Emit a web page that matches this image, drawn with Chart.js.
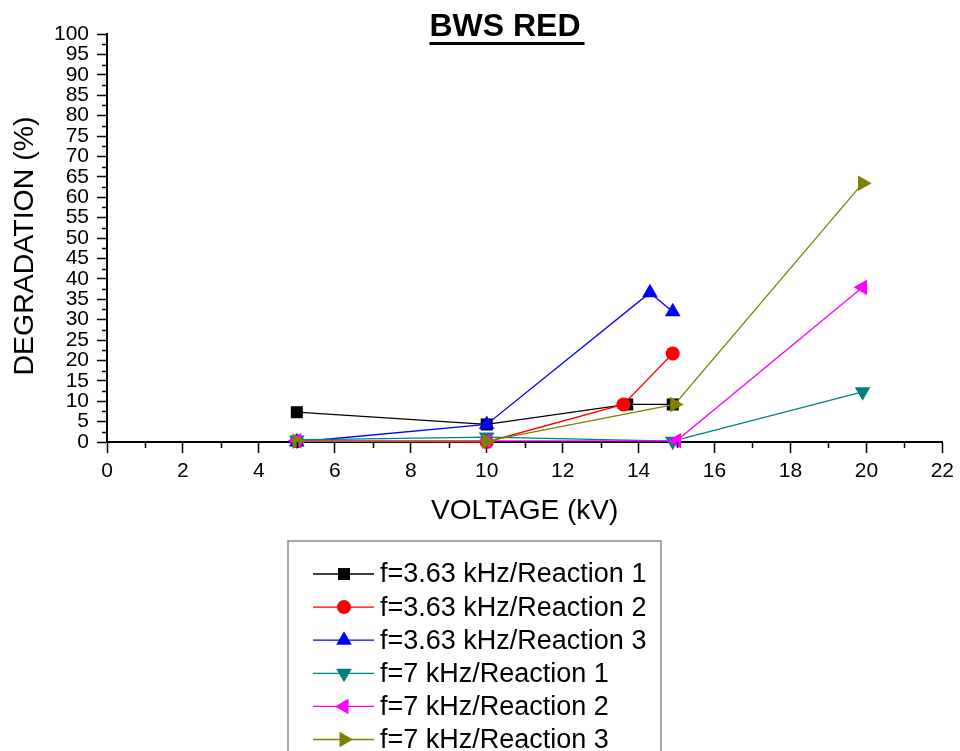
<!DOCTYPE html>
<html>
<head>
<meta charset="utf-8">
<title>BWS RED</title>
<script src="https://cdn.jsdelivr.net/npm/chart.js@4/dist/chart.umd.min.js"></script>
<style>
    body { margin: 0; background: #fff; }
    #wrap { width: 960px; height: 751px; }
</style>
</head>
<body>
<div id="wrap"><canvas id="degradationChart" width="960" height="751"></canvas></div>
<script>
// Series data (x = voltage kV, y = degradation %)
const seriesLabels = [
    'f=3.63 kHz/Reaction 1',
    'f=3.63 kHz/Reaction 2',
    'f=3.63 kHz/Reaction 3',
    'f=7 kHz/Reaction 1',
    'f=7 kHz/Reaction 2',
    'f=7 kHz/Reaction 3'
];
const voltage363r1 = [5, 10, 13.7, 14.9];
const degr363r1 = [7.3, 4.3, 9.2, 9.2];
const voltage363r2 = [5, 10, 13.6, 14.9];
const degr363r2 = [0.2, 0, 9.2, 21.7];
const voltage363r3 = [5, 10, 14.3, 14.9];
const degr363r3 = [0, 4.3, 36.6, 31.9];
const voltage7r1 = [5, 10, 14.9, 19.9];
const degr7r1 = [0.5, 1.2, 0.2, 12.3];
const voltage7r2 = [5, 10, 15, 19.9];
const degr7r2 = [0.3, 0.3, 0.3, 37.9];
const voltage7r3 = [5, 10, 14.95, 19.9];
const degr7r3 = [0.2, 0.2, 9.2, 63.4];

// Axis tick settings
const xTicks = [0, 2, 4, 6, 8, 10, 12, 14, 16, 18, 20, 22];
const yTickStep = 5;

// Marker styles for each series
const seriesStyles = [
    { color: '#000000', pointStyle: 'rect', radius: 8.5, rotation: 0 },
    { color: '#ff0000', pointStyle: 'circle', radius: 7, rotation: 0 },
    { color: '#0000ff', pointStyle: 'triangle', radius: 9, rotation: 0 },
    { color: '#008080', pointStyle: 'triangle', radius: 9, rotation: 180 },
    { color: '#ff00ff', pointStyle: 'triangle', radius: 9, rotation: 270 },
    { color: '#808000', pointStyle: 'triangle', radius: 9, rotation: 90 }
];

const xs = [voltage363r1, voltage363r2, voltage363r3, voltage7r1, voltage7r2, voltage7r3];
const ys = [degr363r1, degr363r2, degr363r3, degr7r1, degr7r2, degr7r3];

const fontFamily = '"Liberation Sans", Arial, sans-serif';

// Build the datasets from the arrays above
const datasets = seriesLabels.map(function(label, i) {
    const st = seriesStyles[i];
    return {
        label: label,
        data: xs[i].map((x, j) => ({ x: x, y: ys[i][j] })),
        borderColor: st.color,
        backgroundColor: st.color,
        borderWidth: 1.3,
        pointStyle: st.pointStyle,
        pointRadius: st.radius,
        pointRotation: st.rotation,
        pointBorderWidth: 0,
        pointBackgroundColor: st.color,
        tension: 0,
        clip: false,
        // later series drawn on top
        order: seriesLabels.length - i
    };
});

// Draw a marker for the legend
function drawMarker(ctx, st, x, y) {
    ctx.save();
    ctx.fillStyle = st.color;
    ctx.beginPath();
    if (st.pointStyle === 'rect') {
        const s = st.radius * Math.SQRT1_2;
        ctx.rect(x - s, y - s, 2 * s, 2 * s);
    } else if (st.pointStyle === 'circle') {
        ctx.arc(x, y, st.radius, 0, Math.PI * 2);
    } else {
        let rad = st.rotation * Math.PI / 180;
        ctx.moveTo(x + Math.sin(rad) * st.radius, y - Math.cos(rad) * st.radius);
        for (let k = 0; k < 2; k++) {
            rad += Math.PI * 2 / 3;
            ctx.lineTo(x + Math.sin(rad) * st.radius, y - Math.cos(rad) * st.radius);
        }
        ctx.closePath();
    }
    ctx.fill();
    ctx.restore();
}

// Title, y axis title, minor ticks and boxed legend
const decorPlugin = {
    id: 'decor',
    afterDraw(chart) {
        const ctx = chart.ctx;
        const xScale = chart.scales.x;
        const yScale = chart.scales.y;

        // Title with underline
        ctx.save();
        ctx.font = 'bold 32px ' + fontFamily;
        ctx.fillStyle = '#000';
        ctx.textAlign = 'center';
        ctx.textBaseline = 'alphabetic';
        ctx.fillText('BWS RED', 505, 36);
        const w = ctx.measureText('BWS RED').width;
        ctx.fillRect(505 - w / 2, 42, w + 4, 3);
        ctx.restore();

        // Y axis title (rotated)
        ctx.save();
        ctx.translate(25, 246);
        ctx.rotate(-Math.PI / 2);
        ctx.font = '28.5px ' + fontFamily;
        ctx.fillStyle = '#000';
        ctx.textAlign = 'center';
        ctx.textBaseline = 'middle';
        ctx.fillText('DEGRADATION (%)', 0, 0);
        ctx.restore();

        // Minor ticks
        ctx.save();
        ctx.strokeStyle = '#000';
        ctx.lineWidth = 1.5;
        ctx.beginPath();
        for (let v = yTickStep / 2; v < 100; v += yTickStep) {
            const py = Math.round(yScale.getPixelForValue(v)) + 0.5;
            ctx.moveTo(chart.chartArea.left, py);
            ctx.lineTo(chart.chartArea.left - 5, py);
        }
        for (let v = 1; v < 22; v += 2) {
            const px = Math.round(xScale.getPixelForValue(v)) + 0.5;
            ctx.moveTo(px, chart.chartArea.bottom);
            ctx.lineTo(px, chart.chartArea.bottom + 6);
        }
        ctx.stroke();
        ctx.restore();

        // Legend box
        ctx.save();
        ctx.strokeStyle = '#8a8a8a';
        ctx.lineWidth = 1.5;
        ctx.strokeRect(288, 541, 373, 230);
        ctx.font = '27px ' + fontFamily;
        ctx.textBaseline = 'middle';
        ctx.textAlign = 'left';
        seriesLabels.forEach(function(label, i) {
            const st = seriesStyles[i];
            const ly = 574 + i * 33.1;
            ctx.strokeStyle = st.color;
            ctx.lineWidth = 1.3;
            ctx.beginPath();
            ctx.moveTo(313, ly);
            ctx.lineTo(374, ly);
            ctx.stroke();
            drawMarker(ctx, st, 344, ly);
            ctx.fillStyle = '#000';
            ctx.fillText(label, 380, ly + 1);
        });
        ctx.restore();
    }
};

const config = {
    type: 'line',
    data: { datasets: datasets },
    options: {
        responsive: false,
        animation: false,
        layout: { padding: { top: 34, left: 0, right: 15, bottom: 0 } },
        plugins: {
            legend: { display: false },
            title: { display: false },
            tooltip: { enabled: false }
        },
        scales: {
            x: {
                type: 'linear',
                min: 0,
                max: 22,
                afterFit: function(scale) { scale.height = 309; },
                afterBuildTicks: function(scale) {
                    scale.ticks = xTicks.map(v => ({ value: v }));
                },
                ticks: {
                    color: '#000',
                    font: { family: fontFamily, size: 21 },
                    padding: 6,
                    maxRotation: 0,
                    autoSkip: false
                },
                grid: {
                    drawOnChartArea: false,
                    color: '#000',
                    tickColor: '#000',
                    tickLength: 11,
                    tickWidth: 1.5
                },
                border: { display: true, color: '#000', width: 2 },
                title: {
                    display: true,
                    text: 'VOLTAGE (kV)',
                    color: '#000',
                    font: { family: fontFamily, size: 28 },
                    padding: { top: 0, bottom: 223 }
                }
            },
            y: {
                type: 'linear',
                min: 0,
                max: 100,
                afterFit: function(scale) { scale.width = 107; },
                ticks: {
                    stepSize: yTickStep,
                    color: '#000',
                    font: { family: fontFamily, size: 21 },
                    padding: 8,
                    autoSkip: false
                },
                grid: {
                    drawOnChartArea: false,
                    color: '#000',
                    tickColor: '#000',
                    tickLength: 10,
                    tickWidth: 1.5
                },
                border: { display: true, color: '#000', width: 2 },
                title: { display: false }
            }
        }
    },
    plugins: [decorPlugin]
};

const degradationChart = new Chart(document.getElementById('degradationChart'), config);
</script>
</body>
</html>
